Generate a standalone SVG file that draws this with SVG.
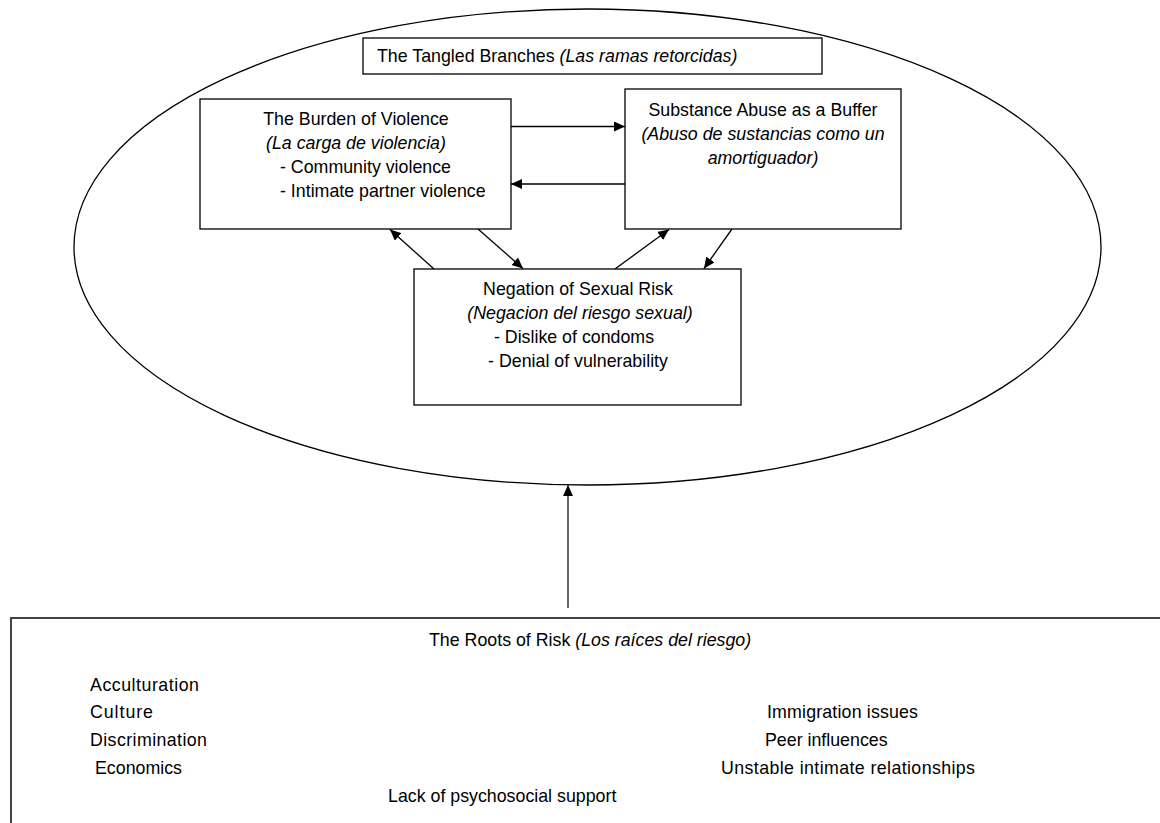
<svg xmlns="http://www.w3.org/2000/svg" width="1160" height="823" viewBox="0 0 1160 823">
<defs>
<marker id="ah" markerUnits="userSpaceOnUse" markerWidth="12" markerHeight="10" refX="11" refY="5" orient="auto">
<path d="M0,0 L11,5 L0,10 Z" fill="#000"/>
</marker>
<style>
text{font-family:"Liberation Sans",Arial,sans-serif;font-size:17.8px;fill:#000}
.it{font-style:italic}
.mid{text-anchor:middle}
.box{fill:#fff;stroke:#000;stroke-width:1.3}
.conn line{stroke:#000;stroke-width:1.3;marker-end:url(#ah)}
</style>
</defs>
<rect width="1160" height="823" fill="#fff"/>
<g id="branches">
<ellipse cx="587.5" cy="247" rx="513.5" ry="238" fill="none" stroke="#000" stroke-width="1.3"/>
</g>
<g id="title">
<rect class="box" x="363" y="38" width="459" height="36"/>
<text x="377" y="62">The Tangled Branches <tspan class="it">(Las ramas retorcidas)</tspan></text>
</g>
<g id="burden">
<rect class="box" x="200" y="99" width="311" height="130"/>
<text class="mid" x="356" y="125">The Burden of Violence</text>
<text class="mid it" x="356" y="149">(La carga de violencia)</text>
<text x="280" y="173">- Community violence</text>
<text x="280" y="197">- Intimate partner violence</text>
</g>
<g id="substance">
<rect class="box" x="625" y="89" width="276" height="140"/>
<text class="mid" x="763" y="116">Substance Abuse as a Buffer</text>
<text class="mid it" x="763" y="140">(Abuso de sustancias como un</text>
<text class="mid it" x="763" y="164">amortiguador)</text>
</g>
<g id="negation">
<rect class="box" x="414" y="269" width="327" height="136"/>
<text class="mid" x="578" y="295">Negation of Sexual Risk</text>
<text class="mid it" x="580" y="319">(Negacion del riesgo sexual)</text>
<text class="mid" x="574" y="343">- Dislike of condoms</text>
<text class="mid" x="578" y="367">- Denial of vulnerability</text>
</g>
<g id="roots">
<rect x="11" y="618" width="1200" height="300" fill="#fff" stroke="#444" stroke-width="2"/>
<text x="429" y="646">The Roots of Risk <tspan class="it">(Los raíces del riesgo)</tspan></text>
<text x="90" y="691" textLength="109">Acculturation</text>
<text x="90" y="718" textLength="63">Culture</text>
<text x="90" y="746" textLength="117">Discrimination</text>
<text x="95" y="774">Economics</text>
<text x="388" y="802">Lack of psychosocial support</text>
<text x="767" y="718" textLength="151">Immigration issues</text>
<text x="765" y="746">Peer influences</text>
<text x="721" y="774" textLength="254">Unstable intimate relationships</text>
</g>
<g id="connectors" class="conn">
<line x1="511" y1="126.5" x2="625" y2="126.5"/>
<line x1="625" y1="184" x2="511" y2="184"/>
<line x1="434" y1="269" x2="390" y2="229.5"/>
<line x1="478" y1="229" x2="523" y2="268.5"/>
<line x1="615" y1="269" x2="669" y2="229.5"/>
<line x1="732" y1="229" x2="704" y2="268.5"/>
<line x1="568" y1="608" x2="568" y2="485" style="stroke:#444;stroke-width:1.6"/>
</g>
</svg>
